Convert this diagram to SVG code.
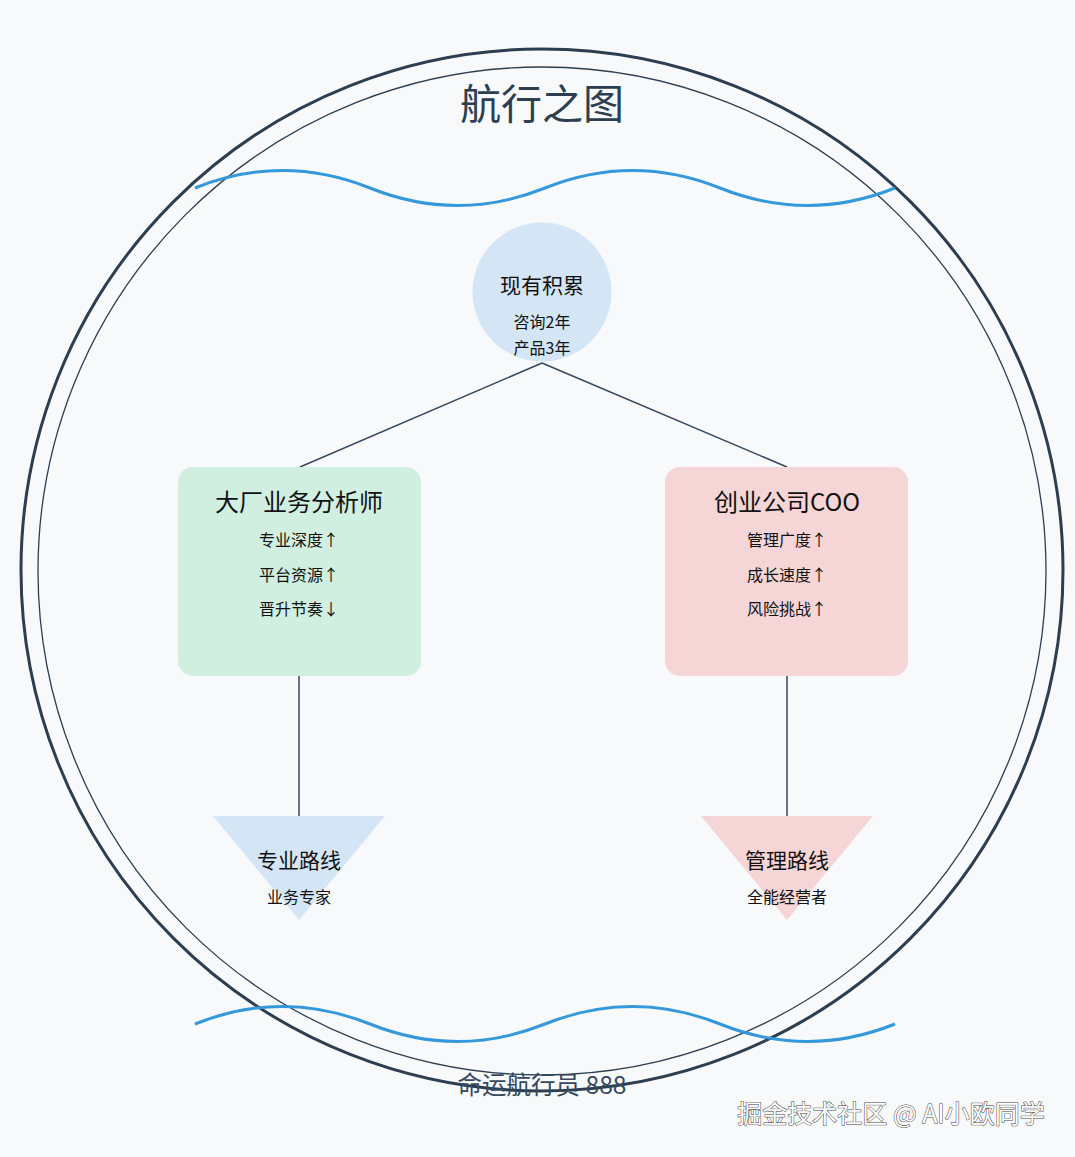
<svg xmlns="http://www.w3.org/2000/svg" width="1075" height="1157" viewBox="0 0 1075 1157">
<style>
text{font-family:"Noto Sans CJK SC","Liberation Sans",sans-serif;text-anchor:middle;fill:#111}
.t{font-size:21px}
.s{font-size:16px}
.bt{font-size:24px}
.wave{fill:none;stroke:#3498db;stroke-width:3}
.con{stroke:#34495e;stroke-width:1.5;fill:none}
.blue{fill:#d4e6f5}
.green{fill:#d0efe0}
.pink{fill:#f5d5d5}
</style>
<rect width="1075" height="1157" fill="#f7f9fb"/>
<g id="frame">
<circle cx="542" cy="570" r="521" fill="none" stroke="#2c3e50" stroke-width="3"/>
<circle cx="542" cy="571" r="504" fill="none" stroke="#2c3e50" stroke-width="1.3"/>
<path class="wave" d="M195,188 Q282.5,153 370,188 T545,188 T720,188 T895,188"/>
<path class="wave" d="M195,1024 Q282.5,989 370,1024 T545,1024 T720,1024 T895,1024"/>
<text x="542" y="119" style="font-size:41px;fill:#2c3e50">航行之图</text>
</g>
<g id="connectors">
<line class="con" x1="542" y1="363" x2="300" y2="467"/>
<line class="con" x1="542" y1="363" x2="787" y2="467"/>
<line class="con" x1="299" y1="676" x2="299" y2="816"/>
<line class="con" x1="787" y1="676" x2="787" y2="816"/>
</g>
<g id="node-root">
<circle class="blue" cx="542" cy="292" r="69.5"/>
<text class="t" x="542" y="293">现有积累</text>
<text class="s" x="542" y="328">咨询2年</text>
<text class="s" x="542" y="354">产品3年</text>
</g>
<g id="node-big">
<rect class="green" x="178" y="467" width="243" height="209" rx="15"/>
<text class="bt" x="299" y="511">大厂业务分析师</text>
<text class="s" x="299" y="546">专业深度↑</text>
<text class="s" x="299" y="581">平台资源↑</text>
<text class="s" x="299" y="615">晋升节奏↓</text>
</g>
<g id="node-startup">
<rect class="pink" x="665" y="467" width="243" height="209" rx="15"/>
<text class="bt" x="787" y="511">创业公司COO</text>
<text class="s" x="787" y="546">管理广度↑</text>
<text class="s" x="787" y="581">成长速度↑</text>
<text class="s" x="787" y="615">风险挑战↑</text>
</g>
<g id="node-expert">
<polygon class="blue" points="213,816 385,816 299,920"/>
<text class="t" x="299" y="868">专业路线</text>
<text class="s" x="299" y="903">业务专家</text>
</g>
<g id="node-manager">
<polygon class="pink" points="701,816 873,816 787,920"/>
<text class="t" x="787" y="868">管理路线</text>
<text class="s" x="787" y="903">全能经营者</text>
</g>
<g id="footer">
<text x="542" y="1094" style="font-size:24.5px;fill:#34495e">命运航行员 888</text>
<text x="891" y="1123" style="font-size:25px;fill:#ffffff;stroke:#444;stroke-width:1;paint-order:stroke">掘金技术社区 @ AI小欧同学</text>
</g>
</svg>
